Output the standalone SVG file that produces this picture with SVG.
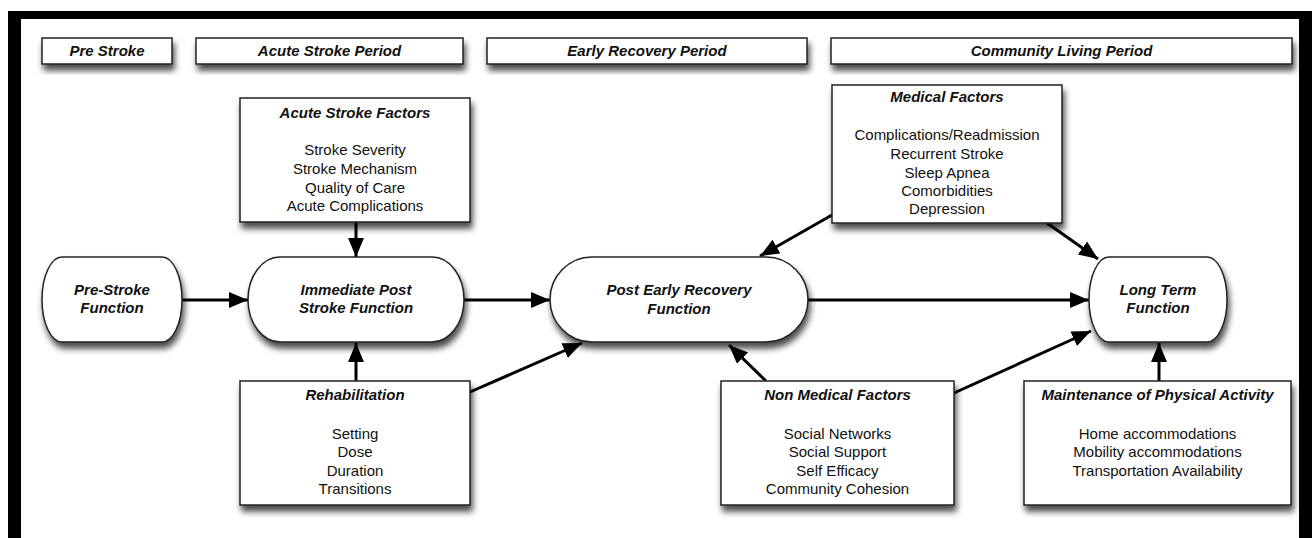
<svg xmlns="http://www.w3.org/2000/svg" width="1312" height="538" viewBox="0 0 1312 538">
<defs>
<filter id="sh" x="-10%" y="-20%" width="125%" height="160%">
<feDropShadow dx="2" dy="6" stdDeviation="3" flood-color="#000" flood-opacity="0.7"/>
</filter>
<marker id="ah" markerUnits="userSpaceOnUse" markerWidth="20" markerHeight="18" refX="19" refY="8" orient="auto">
<path d="M0,0 L19,8 L0,16 z" fill="#000"/>
</marker>
<style>
.box{fill:#fff;stroke:#222;stroke-width:1.5;filter:url(#sh)}
.t{font-family:"Liberation Sans",Arial,sans-serif;font-size:15px;font-weight:bold;font-style:italic;text-anchor:middle;fill:#111}
.i{font-family:"Liberation Sans",Arial,sans-serif;font-size:15px;text-anchor:middle;fill:#111}
.c{fill:none;stroke:#000;stroke-width:3;marker-end:url(#ah)}
</style>
</defs>
<rect x="0" y="0" width="1312" height="538" fill="#fff"/>
<g id="frame" fill="#000">
<rect x="8" y="11" width="1304" height="8"/>
<rect x="8" y="11" width="13" height="527"/>
<rect x="1299" y="11" width="13" height="527"/>
</g>
<g id="h-pre"><rect class="box" x="42" y="38" width="130" height="26"/><text class="t" x="107" y="56">Pre Stroke</text></g>
<g id="h-acute"><rect class="box" x="196" y="38" width="267" height="26"/><text class="t" x="329.5" y="56">Acute Stroke Period</text></g>
<g id="h-early"><rect class="box" x="487" y="38" width="320" height="26"/><text class="t" x="647" y="56">Early Recovery Period</text></g>
<g id="h-comm"><rect class="box" x="831" y="38" width="461" height="26"/><text class="t" x="1061.5" y="56">Community Living Period</text></g>

<g id="connectors">
<line class="c" x1="182" y1="300" x2="248" y2="300"/>
<line class="c" x1="464" y1="300" x2="550" y2="300"/>
<line class="c" x1="808" y1="300" x2="1089" y2="300"/>
<line class="c" x1="356" y1="222" x2="356" y2="257"/>
<line class="c" x1="356" y1="381" x2="356" y2="343"/>
<line class="c" x1="470" y1="392" x2="582" y2="343"/>
<line class="c" x1="832" y1="215" x2="760" y2="256"/>
<line class="c" x1="1047" y1="223" x2="1098" y2="259"/>
<line class="c" x1="766" y1="381" x2="729" y2="345"/>
<line class="c" x1="954" y1="393" x2="1091" y2="331"/>
<line class="c" x1="1159" y1="381" x2="1159" y2="343"/>
</g>

<g id="acute-factors"><rect class="box" x="240" y="98" width="230" height="124"/>
<text class="t" x="355" y="118">Acute Stroke Factors</text>
<text class="i" x="355" y="155">Stroke Severity</text>
<text class="i" x="355" y="174">Stroke Mechanism</text>
<text class="i" x="355" y="193">Quality of Care</text>
<text class="i" x="355" y="211">Acute Complications</text>
</g>
<g id="medical-factors"><rect class="box" x="832" y="85" width="230" height="138"/>
<text class="t" x="947" y="102">Medical Factors</text>
<text class="i" x="947" y="140">Complications/Readmission</text>
<text class="i" x="947" y="159">Recurrent Stroke</text>
<text class="i" x="947" y="178">Sleep Apnea</text>
<text class="i" x="947" y="196">Comorbidities</text>
<text class="i" x="947" y="214">Depression</text>
</g>
<g id="pre-function"><rect class="box" x="42" y="257" width="140" height="85" rx="20" ry="42.5"/>
<text class="t" x="112" y="295">Pre-Stroke</text><text class="t" x="112" y="313">Function</text></g>
<g id="immediate"><rect class="box" x="248" y="257" width="216" height="85" rx="32" ry="42.5"/>
<text class="t" x="356" y="295">Immediate Post</text><text class="t" x="356" y="313">Stroke Function</text></g>
<g id="post-early"><rect class="box" x="550" y="257" width="258" height="85" rx="42" ry="42.5"/>
<text class="t" x="679" y="295">Post Early Recovery</text><text class="t" x="679" y="314">Function</text></g>
<g id="long-term"><rect class="box" x="1089" y="257" width="138" height="85" rx="20" ry="42.5"/>
<text class="t" x="1158" y="295">Long Term</text><text class="t" x="1158" y="313">Function</text></g>
<g id="rehab"><rect class="box" x="240" y="381" width="230" height="124"/>
<text class="t" x="355" y="400">Rehabilitation</text>
<text class="i" x="355" y="439">Setting</text>
<text class="i" x="355" y="457">Dose</text>
<text class="i" x="355" y="476">Duration</text>
<text class="i" x="355" y="494">Transitions</text>
</g>
<g id="non-medical"><rect class="box" x="721" y="381" width="233" height="124"/>
<text class="t" x="837.5" y="400">Non Medical Factors</text>
<text class="i" x="837.5" y="439">Social Networks</text>
<text class="i" x="837.5" y="457">Social Support</text>
<text class="i" x="837.5" y="476">Self Efficacy</text>
<text class="i" x="837.5" y="494">Community Cohesion</text>
</g>
<g id="maintenance"><rect class="box" x="1024" y="381" width="267" height="124"/>
<text class="t" x="1157.5" y="400">Maintenance of Physical Activity</text>
<text class="i" x="1157.5" y="439">Home accommodations</text>
<text class="i" x="1157.5" y="457">Mobility accommodations</text>
<text class="i" x="1157.5" y="476">Transportation Availability</text>
</g>
</svg>
